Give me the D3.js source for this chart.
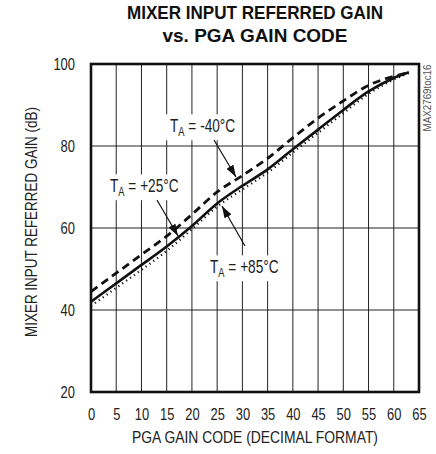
<!DOCTYPE html>
<html><head><meta charset="utf-8">
<script src="https://cdn.jsdelivr.net/npm/d3@7"></script>
<style>
body{margin:0;background:#fff;}
text{font-family:"Liberation Sans Narrow","Liberation Sans",Arial,sans-serif;}
</style></head>
<body><svg id="c" width="436" height="454"></svg>
<script>
const codes = [0,5,10,15,20,25,30,35,40,45,50,55,60,63];
const gain25 = [42,46.5,51,55.5,60.5,66,70.3,74.3,79.2,84,88.8,93.3,96.6,98];
const gainM40 = [44.5,49,53.5,58,63.3,68.8,72.8,77,82,86.8,91,94.8,97,97.9];
const gain85 = [41,45.4,49.8,54.4,59.7,65.2,69.4,73.5,78.4,83.2,88,92.7,96.2,97.8];
const xTicks = [0,5,10,15,20,25,30,35,40,45,50,55,60,65];
const yTicks = [20,40,60,80,100];

const svg = d3.select("#c");
const x = d3.scaleLinear().domain([0,65]).range([91,419]);
const y = d3.scaleLinear().domain([20,100]).range([392,64]);

function narrow(sel, f){
  sel.each(function(){
    const L = this.getComputedTextLength();
    d3.select(this).attr("textLength", L*f).attr("lengthAdjust","spacingAndGlyphs");
  });
  return sel;
}

// grid
svg.append("g").selectAll("line").data(xTicks.slice(1,-1)).join("line")
  .attr("x1",d=>x(d)).attr("x2",d=>x(d)).attr("y1",y(100)).attr("y2",y(20))
  .attr("stroke","#222").attr("stroke-width",1);
svg.append("g").selectAll("line").data(yTicks.slice(1,-1)).join("line")
  .attr("y1",d=>y(d)).attr("y2",d=>y(d)).attr("x1",x(0)).attr("x2",x(65))
  .attr("stroke","#222").attr("stroke-width",1);

// axes tick labels
const xa = svg.append("g").attr("transform",`translate(0,${y(20)})`)
  .call(d3.axisBottom(x).tickValues(xTicks).tickSize(0).tickPadding(16));
xa.select(".domain").remove();
xa.selectAll("text").attr("font-size",17).attr("fill","#222")
  .attr("font-family","'Liberation Sans',Arial,sans-serif");
narrow(xa.selectAll("text"),0.76);
const ya = svg.append("g").attr("transform",`translate(${x(0)},0)`)
  .call(d3.axisLeft(y).tickValues(yTicks).tickSize(0).tickPadding(16));
ya.select(".domain").remove();
ya.selectAll("text").attr("font-size",17).attr("fill","#222")
  .attr("font-family","'Liberation Sans',Arial,sans-serif");
narrow(ya.selectAll("text"),0.76);

// labels (white boxes)
function label(tx, ty, sign){
  const g = svg.append("g").attr("transform",`translate(${tx},${ty}) scale(0.78,1)`);
  const t = g.append("text").attr("x",0).attr("y",0).attr("font-size",17.5).attr("fill","#222")
    .attr("font-family","'Liberation Sans',Arial,sans-serif");
  t.append("tspan").text("T");
  t.append("tspan").attr("font-size",12).attr("dy",4).text("A");
  t.append("tspan").attr("dy",-4).text(" = " + sign + "°C");
  const bb = t.node().getBBox();
  g.insert("rect","text").attr("x",bb.x-6).attr("y",bb.y-2).attr("width",bb.width+12).attr("height",bb.height+4).attr("fill","#fff");
}
label(170,132,"-40");
label(110,192,"+25");
label(210,273,"+85");

// curves
const line = (arr)=> d3.line().x((d,i)=>x(codes[i])).y((d)=>y(d)).curve(d3.curveMonotoneX)(arr);
svg.append("path").attr("d",line(gain85)).attr("fill","none").attr("stroke","#111")
  .attr("stroke-width",2.2).attr("stroke-dasharray","1.2,3.6");
svg.append("path").attr("d",line(gainM40)).attr("fill","none").attr("stroke","#111")
  .attr("stroke-width",2.8).attr("stroke-dasharray","8,5");
svg.append("path").attr("d",line(gain25)).attr("fill","none").attr("stroke","#111")
  .attr("stroke-width",2.6);

// arrows
svg.append("defs").append("marker").attr("id","ah").attr("viewBox","0 0 12 8")
  .attr("refX",12).attr("refY",4).attr("markerWidth",12).attr("markerHeight",8)
  .attr("markerUnits","userSpaceOnUse").attr("orient","auto")
  .append("path").attr("d","M0,0 L12,4 L0,8 Z").attr("fill","#111");
function arrow(x1,y1,x2,y2){
  svg.append("line").attr("x1",x1).attr("y1",y1).attr("x2",x2).attr("y2",y2)
    .attr("stroke","#111").attr("stroke-width",1.2).attr("marker-end","url(#ah)");
}
arrow(214,140,236,177);
arrow(157,200,178,236);
arrow(245,246,222,206);

// border
svg.append("rect").attr("x",x(0)).attr("y",y(100)).attr("width",x(65)-x(0)).attr("height",y(20)-y(100))
  .attr("fill","none").attr("stroke","#111").attr("stroke-width",2.6);

// titles
svg.append("text").attr("x",255).attr("y",18.5).attr("text-anchor","middle").attr("font-size",19)
  .attr("font-weight","bold").attr("fill","#111").attr("font-family","'Liberation Sans',Arial,sans-serif")
  .text("MIXER INPUT REFERRED GAIN").attr("textLength",256).attr("lengthAdjust","spacingAndGlyphs");
svg.append("text").attr("x",255).attr("y",42).attr("text-anchor","middle").attr("font-size",19)
  .attr("font-weight","bold").attr("fill","#111").attr("font-family","'Liberation Sans',Arial,sans-serif")
  .text("vs. PGA GAIN CODE").attr("textLength",185).attr("lengthAdjust","spacingAndGlyphs");
svg.append("text").attr("x",255).attr("y",443).attr("text-anchor","middle").attr("font-size",17)
  .attr("fill","#222").attr("font-family","'Liberation Sans',Arial,sans-serif")
  .text("PGA GAIN CODE (DECIMAL FORMAT)").attr("textLength",246).attr("lengthAdjust","spacingAndGlyphs");
svg.append("text").attr("transform","translate(37,222) rotate(-90)").attr("text-anchor","middle")
  .attr("font-size",17).attr("fill","#222").attr("font-family","'Liberation Sans',Arial,sans-serif")
  .text("MIXER INPUT REFERRED GAIN (dB)").attr("textLength",230).attr("lengthAdjust","spacingAndGlyphs");
svg.append("text").attr("transform","translate(431,98) rotate(-90)").attr("text-anchor","middle")
  .attr("font-size",10).attr("fill","#555").attr("font-family","'Liberation Sans',Arial,sans-serif")
  .text("MAX2769toc16").attr("textLength",67).attr("lengthAdjust","spacingAndGlyphs");
</script></body></html>
